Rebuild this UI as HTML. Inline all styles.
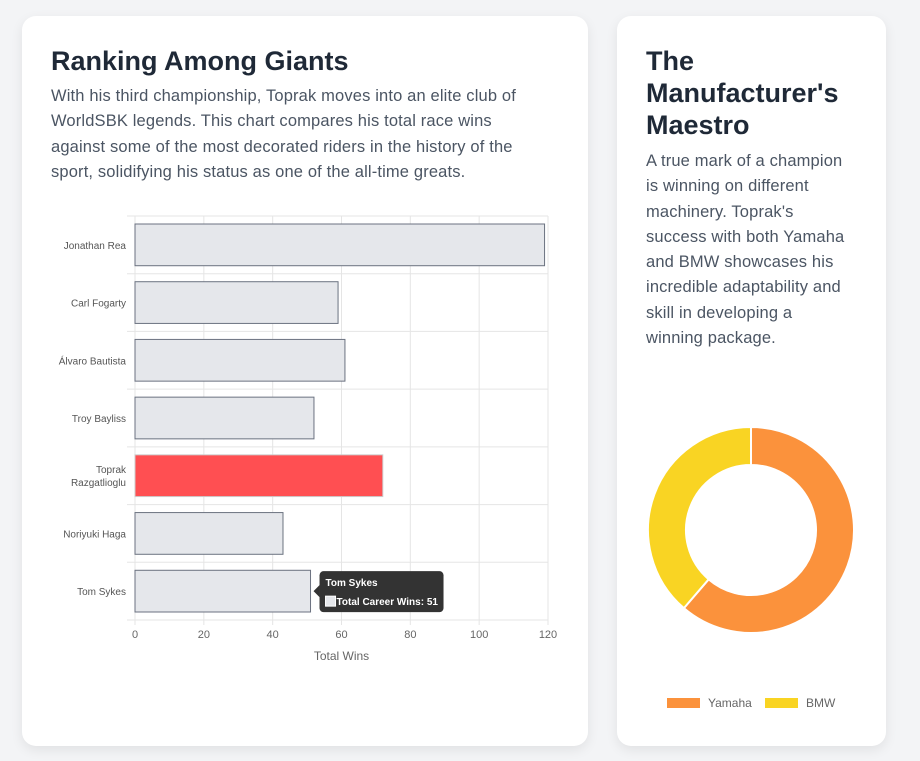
<!DOCTYPE html>
<html><head><meta charset="utf-8">
<style>
body{margin:0;width:920px;height:761px;background:#f3f4f6;font-family:"Liberation Sans",sans-serif;position:relative;overflow:hidden}
.card{position:absolute;background:#fff;border-radius:14px;box-shadow:0 4px 12px rgba(0,0,0,0.08)}
h2{margin:0;font-size:27px;font-weight:700;color:#1f2937;line-height:32px}
p{margin:0;color:#4b5563;font-size:16.5px;line-height:25.3px;letter-spacing:0.15px}
svg text{font-family:"Liberation Sans",sans-serif}
</style></head><body>
<div class="card" style="left:22px;top:16px;width:566px;height:730px">
 <h2 style="position:absolute;left:29px;top:29px">Ranking Among Giants</h2>
 <p style="position:absolute;left:29px;top:68px;width:482px">With his third championship, Toprak moves into an elite club of WorldSBK legends. This chart compares his total race wins against some of the most decorated riders in the history of the sport, solidifying his status as one of the all-time greats.</p>
</div>
<div class="card" style="left:617px;top:16px;width:269px;height:730px">
 <h2 style="position:absolute;left:29px;top:29px;width:220px">The Manufacturer's Maestro</h2>
 <p style="position:absolute;left:29px;top:133px;width:206px">A true mark of a champion is winning on different machinery. Toprak's success with both Yamaha and BMW showcases his incredible adaptability and skill in developing a winning package.</p>
</div>
<svg id="bar" width="920" height="761" style="position:absolute;left:0;top:0"></svg>
<script>
const riders=["Jonathan Rea","Carl Fogarty","Álvaro Bautista","Troy Bayliss","Toprak Razgatlioglu","Noriyuki Haga","Tom Sykes"];
const wins=[119,59,61,52,72,43,51];
const xTicks=[0,20,40,60,80,100,120];
const mfr=["Yamaha","BMW"];
const mfrWins=[19,12];
const mfrColors=["#fb923c","#f9d423"];
const NS="http://www.w3.org/2000/svg";
const svg=document.getElementById('bar');
function mk(t,a,p){const e=document.createElementNS(NS,t);for(const k in a)e.setAttribute(k,a[k]);(p||svg).appendChild(e);return e;}
const L=135,R=548,T=216,B=620,xMax=120;
const x=v=>L+(v/xMax)*(R-L);
const rowH=(B-T)/riders.length;
const y=i=>T+i*rowH;
xTicks.forEach(t=>{
 const g=mk('line',{x1:x(t),x2:x(t),y1:T,y2:B+5,stroke:'#e5e5e5'});
 
 
 const tx=mk('text',{x:x(t),y:B+18,'font-size':11,fill:'#666','text-anchor':'middle'});tx.textContent=t;
 
 
});
for(let i=0;i<=riders.length;i++){
 const g=mk('line',{x1:L-8,x2:R,y1:y(i),y2:y(i),stroke:'#e5e5e5'});
 
 
}
riders.forEach((r,i)=>{
 const hl=r.startsWith('Toprak');
 const b=mk('rect',{x:L,y:y(i)+8,width:x(wins[i])-L,height:rowH-16,fill:hl?'#ff4f52':'#e5e7eb',stroke:hl?'#cccccc':'#6b7280','stroke-width':1});
 
 
 const cy=y(i)+rowH/2;
 const parts=hl?r.split(' '):[r];
 parts.forEach((p,k)=>{
  const t=mk('text',{x:126,y:cy+4+(k-(parts.length-1)/2)*13,'font-size':10,fill:'#555','text-anchor':'end'});t.textContent=p;
  
  
 });
});
const at=mk('text',{x:(L+R)/2,y:660,'font-size':12,fill:'#666','text-anchor':'middle'});at.textContent='Total Wins';


const si=riders.length-1, tx0=x(wins[si])+7, ty0=y(si)+rowH/2;
const tg=mk('g',{});


mk('rect',{x:tx0+2,y:ty0-20,width:124,height:41,rx:4,fill:'#333'},tg);
mk('path',{d:`M${tx0-4} ${ty0} L${tx0+2} ${ty0-6} L${tx0+2} ${ty0+6}Z`,fill:'#333'},tg);
const t1=mk('text',{x:tx0+8,y:ty0-5,'font-size':10,'font-weight':'bold',fill:'#fff'},tg);t1.textContent=riders[si];
mk('rect',{x:tx0+8,y:ty0+5,width:10,height:10,fill:'#e5e7eb',stroke:'#fff'},tg);
const t2=mk('text',{x:tx0+19,y:ty0+14,'font-size':10,'font-weight':'bold',fill:'#fff'},tg);t2.textContent='Total Career Wins: '+wins[si];
const cx=751,cy=530,ro=103,ri=65;
const tot=mfrWins.reduce((a,b)=>a+b,0);let a0=0;
mfrWins.forEach((v,i)=>{
 const a1=a0+v/tot*2*Math.PI;
 const p=(r,a)=>[cx+r*Math.sin(a),cy-r*Math.cos(a)];
 const [x1,y1]=p(ro,a0),[x2,y2]=p(ro,a1),[x3,y3]=p(ri,a1),[x4,y4]=p(ri,a0);
 const lg=(a1-a0)>Math.PI?1:0;
 const s=mk('path',{d:`M${x1} ${y1} A${ro} ${ro} 0 ${lg} 1 ${x2} ${y2} L${x3} ${y3} A${ri} ${ri} 0 ${lg} 0 ${x4} ${y4}Z`,fill:mfrColors[i],stroke:'#fff','stroke-width':2});
 
 
 a0=a1;
});
const lx=[667,765];
mfr.forEach((m,i)=>{
 const r=mk('rect',{x:lx[i],y:698,width:33,height:10,fill:mfrColors[i]});
 
 
 const t=mk('text',{x:lx[i]+41,y:707,'font-size':12,fill:'#666'});t.textContent=m;
 
 
});
</script>
</body></html>
